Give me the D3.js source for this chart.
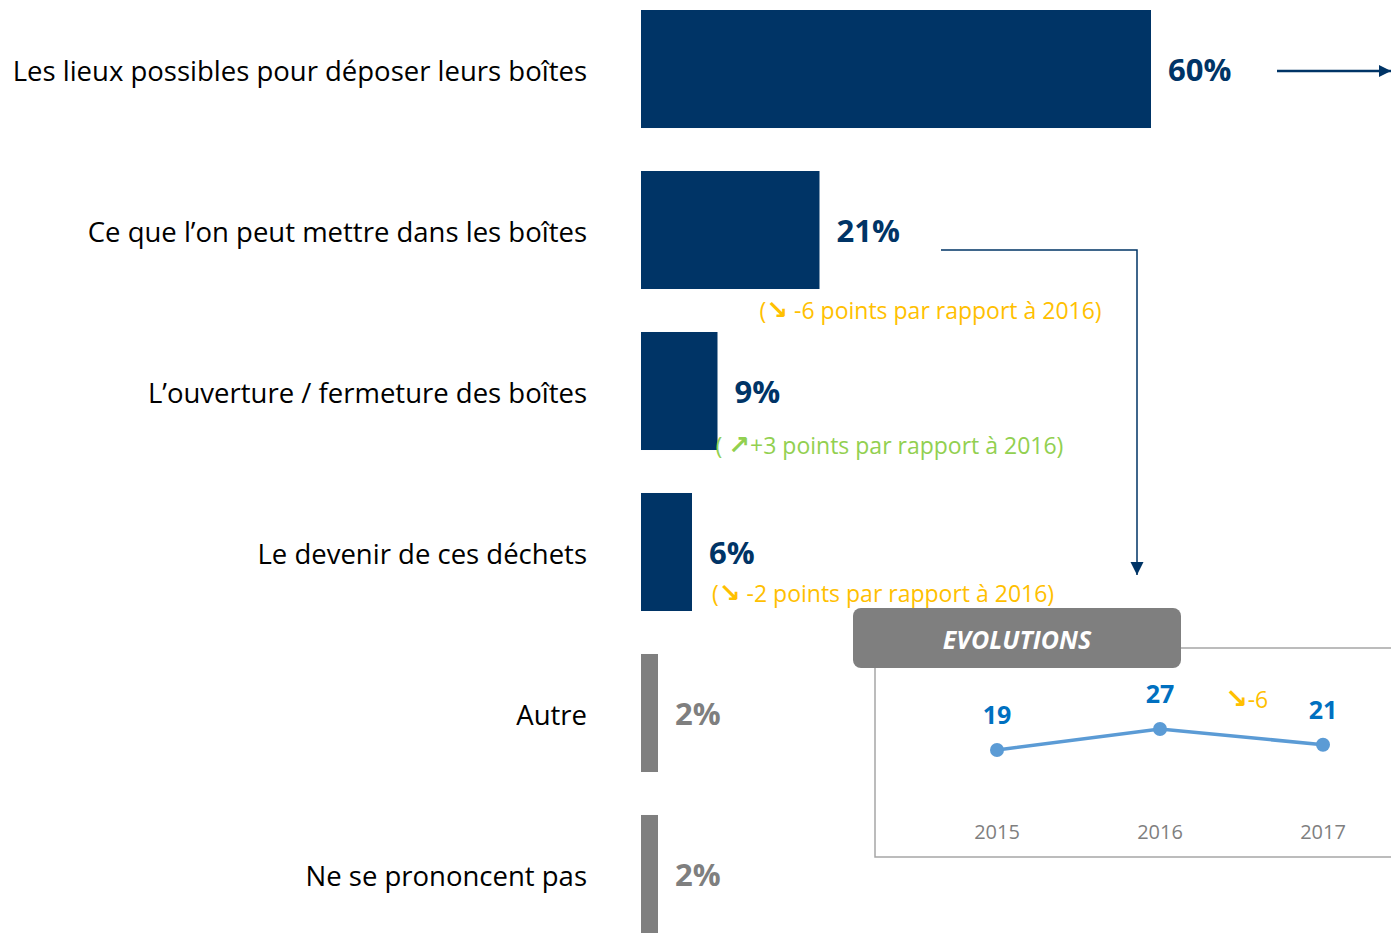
<!DOCTYPE html>
<html>
<head>
<meta charset="utf-8">
<script src="https://cdn.jsdelivr.net/npm/d3@7"></script>
<style>
  body { margin: 0; background: #fff; }
  svg { display: block; font-family: "Open Sans", sans-serif; }
</style>
</head>
<body>
<div id="chart"></div>
<script>
var categories = [
  "Les lieux possibles pour déposer leurs boîtes",
  "Ce que l’on peut mettre dans les boîtes",
  "L’ouverture / fermeture des boîtes",
  "Le devenir de ces déchets",
  "Autre",
  "Ne se prononcent pas"
]
var values = [60, 21, 9, 6, 2, 2]
var highlight = [true, true, true, true, false, false]

// evolution notes under some bars
var noteIdx = [1, 2, 3]
var notePrefix = ["(", "( ", "("]
var noteArrows = ["\u2198", "\u2197", "\u2198"]
var noteTexts = [" -6 points par rapport à 2016)", "+3 points par rapport à 2016)", " -2 points par rapport à 2016)"]
var noteColors = ["#ffc000", "#92d050", "#ffc000"]

var years = ["2015", "2016", "2017"]
var evolution = [19, 27, 21]
var evolutionNote = "-6"

var W = 1391, H = 933
var svg = d3.select("#chart").append("svg")
  .attr("width", W).attr("height", H)

var navy = "#003466", grey = "#7f7f7f"

var x = d3.scaleLinear().domain([0, 60]).range([0, 510])
var y = d3.scaleBand().domain(categories).range([10, 933]).paddingInner(0.267).paddingOuter(0)
var x0 = 641

function barW(i) { return Math.max(x(values[i]), 15) }
function mid(i) { return y(categories[i]) + y.bandwidth() / 2 }

// bars
svg.selectAll(".bar")
  .data(categories)
  .enter()
  .append("rect")
  .attr("class", "bar")
  .attr("x", x0)
  .attr("y", function (d) { return y(d) })
  .attr("width", function (d, i) { return barW(i) })
  .attr("height", y.bandwidth())
  .style("fill", function (d, i) { return highlight[i] ? navy : grey })

// category labels
svg.selectAll(".cat")
  .data(categories)
  .enter()
  .append("text")
  .attr("class", "cat")
  .attr("x", 587)
  .attr("y", function (d, i) { return mid(i) + 2 })
  .attr("dy", "0.35em")
  .attr("text-anchor", "end")
  .style("font-size", "27.5px")
  .style("fill", "#000")
  .text(function (d) { return d })

// value labels
svg.selectAll(".val")
  .data(categories)
  .enter()
  .append("text")
  .attr("class", "val")
  .attr("x", function (d, i) { return x0 + barW(i) + 17 })
  .attr("y", function (d, i) { return mid(i) + 1 })
  .attr("dy", "0.35em")
  .style("font-size", "31px")
  .style("font-weight", "bold")
  .style("fill", function (d, i) { return highlight[i] ? navy : grey })
  .text(function (d, i) { return values[i] + "%" })

// notes
var noteDx = [-60, -2, 20]
var noteDy = [81, 55, 42]
var note = svg.selectAll(".note")
  .data(noteIdx)
  .enter()
  .append("text")
  .attr("class", "note")
  .attr("x", function (d, k) { return x0 + barW(d) + noteDx[k] })
  .attr("y", function (d, k) { return mid(d) + noteDy[k] })
  .attr("dy", "0.35em")
  .style("font-size", "23px")
  .style("fill", function (d, k) { return noteColors[k] })
note.append("tspan")
  .text(function (d, k) { return notePrefix[k] })
note.append("tspan")
  .style("font-family", "DejaVu Sans")
  .style("font-weight", "bold")
  .style("font-size", "26px")
  .text(function (d, k) { return noteArrows[k] })
note.append("tspan")
  .text(function (d, k) { return noteTexts[k] })

// arrow markers
var defs = svg.append("defs")
function marker(id, size) {
  defs.append("marker")
    .attr("id", id)
    .attr("viewBox", "0 -5 10 10")
    .attr("refX", 10).attr("refY", 0)
    .attr("markerWidth", size).attr("markerHeight", size)
    .attr("markerUnits", "strokeWidth")
    .attr("orient", "auto")
    .append("path")
    .attr("d", "M0,-5L10,0L0,5Z")
    .style("fill", navy)
}
marker("arrowhead", 5)
marker("arrowbig", 9)

svg.append("line")
  .attr("x1", 1277).attr("y1", mid(0) + 2)
  .attr("x2", 1391).attr("y2", mid(0) + 2)
  .style("stroke", navy).style("stroke-width", 2.5)
  .attr("marker-end", "url(#arrowhead)")

svg.append("path")
  .attr("d", "M941," + (mid(1) + 20) + " H1137 V575")
  .style("fill", "none")
  .style("stroke", navy).style("stroke-width", 1.5)
  .attr("marker-end", "url(#arrowbig)")

// evolution panel
svg.append("path")
  .attr("d", "M1391,648 H875 V857 H1391")
  .style("fill", "none")
  .style("stroke", "#a6a6a6")
  .style("stroke-width", 1.5)

svg.append("rect")
  .attr("x", 853).attr("y", 608)
  .attr("width", 328).attr("height", 60)
  .attr("rx", 8).attr("ry", 8)
  .style("fill", grey)

svg.append("text")
  .attr("x", 1017).attr("y", 640)
  .attr("dy", "0.35em")
  .attr("text-anchor", "middle")
  .style("font-size", "25px")
  .style("font-weight", "bold")
  .style("font-style", "italic")
  .style("fill", "#fff")
  .text("EVOLUTIONS")

var ex = d3.scalePoint().domain(years).range([997, 1323])
var ey = d3.scaleLinear().domain([19, 27]).range([750, 729])

svg.append("path")
  .datum(evolution)
  .attr("d", d3.line()
    .x(function (d, i) { return ex(years[i]) })
    .y(function (d) { return ey(d) }))
  .style("fill", "none")
  .style("stroke", "#5b9bd5")
  .style("stroke-width", 3.5)

svg.selectAll(".dot")
  .data(evolution)
  .enter()
  .append("circle")
  .attr("class", "dot")
  .attr("cx", function (d, i) { return ex(years[i]) })
  .attr("cy", function (d) { return ey(d) })
  .attr("r", 7)
  .style("fill", "#5b9bd5")

svg.selectAll(".evlab")
  .data(evolution)
  .enter()
  .append("text")
  .attr("class", "evlab")
  .attr("x", function (d, i) { return ex(years[i]) })
  .attr("y", function (d) { return ey(d) - 35 })
  .attr("dy", "0.35em")
  .attr("text-anchor", "middle")
  .style("font-size", "25px")
  .style("font-weight", "bold")
  .style("fill", "#0070c0")
  .text(function (d) { return d })

svg.selectAll(".year")
  .data(years)
  .enter()
  .append("text")
  .attr("class", "year")
  .attr("x", function (d) { return ex(d) })
  .attr("y", 832)
  .attr("dy", "0.35em")
  .attr("text-anchor", "middle")
  .style("font-size", "20px")
  .style("fill", grey)
  .text(function (d) { return d })

var evn = svg.append("text")
  .attr("x", 1225).attr("y", 700)
  .attr("dy", "0.35em")
  .style("font-size", "23px")
  .style("fill", "#ffc000")
evn.append("tspan")
  .style("font-family", "DejaVu Sans")
  .style("font-weight", "bold")
  .style("font-size", "27px")
  .text("\u2198")
evn.append("tspan").text(evolutionNote)
</script>
</body>
</html>
